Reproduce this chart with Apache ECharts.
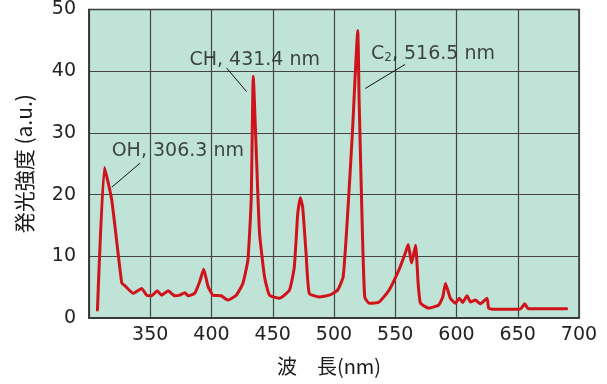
<!DOCTYPE html>
<html><head><meta charset="utf-8">
<script src="https://cdn.jsdelivr.net/npm/echarts@6/dist/echarts.min.js"></script>
<style>html,body{margin:0;padding:0;background:#fff}#c{width:607px;height:384px}</style>
</head><body><div id="c"></div>
<script>
// spectrum: wavelength (nm), intensity (a.u.)
const wavelength = [306.9,312.6,318.6,326.7,329.4,336.2,343,347,351,355.7,359.3,364.6,370,374,378.2,380.9,386.3,390.4,393.6,397.2,401.2,408,413.4,420.2,425.6,429.7,432.4,434.1,436.5,439.2,443.3,447.3,455.5,463.6,467.6,470.4,472.5,474.4,477.2,479.8,488,496.1,502.9,507.5,511,515,519.4,520.5,523.2,525.1,528.6,536.8,544.9,553,558.5,560.6,563.3,566.6,568.7,570.6,577.4,585.5,588.8,591,595,599,602.4,605,608.6,611.4,615.4,619.5,624.9,626.3,630.4,639.8,650,653,655.7,658.6,672,689.9];
const intensity  = [1.3,24.4,19.1,5.7,5.2,4.0,4.8,3.7,3.6,4.4,3.7,4.4,3.6,3.7,4.1,3.6,4.0,5.9,7.9,5.1,3.7,3.6,2.9,3.7,5.6,9.4,19.1,39.2,27.2,13.8,6.7,3.7,3.2,4.5,8.3,16.9,19.5,18.0,10.5,4.0,3.4,3.7,4.5,6.7,16.4,29.9,46.6,35.3,13.8,3.4,2.4,2.6,4.5,7.8,10.7,11.9,8.9,11.8,5.6,2.4,1.6,2.1,3.4,5.6,3.2,2.4,3.2,2.5,3.6,2.6,2.9,2.3,3.2,1.6,1.4,1.4,1.4,1.6,2.3,1.5,1.5,1.5];
const xTicks = [300,350,400,450,500,550,600,650,700];
const yTicks = [0,10,20,30,40,50];
// annotations: label text, text anchor, leader line start/end
const annoText = ['OH, 306.3 nm','CH, 431.4 nm','C{s|2}, 516.5 nm'];
const annoPos  = [[372.5,27.1],[435.3,41.8],[580.8,42.7]];
const leaderFrom = [[341.7,25.1],[412.4,40.5],[558,41.1]];
const leaderTo   = [[318.6,21.2],[428.6,36.7],[525.5,37.2]];

const chart = echarts.init(document.getElementById('c'), null, {renderer:'canvas'});
const font = 'DejaVu Sans';
const series = [{
  type:'line', data: wavelength.map((w,i)=>[w,intensity[i]]),
  showSymbol:false, symbol:'none', smooth:0.15,
  lineStyle:{color:'#d0121b', width:3, join:'round', cap:'round'}, z:5
}];
leaderFrom.forEach((p,i)=>{
  series.push({type:'line', data:[p, leaderTo[i]], symbol:'none', silent:true,
    lineStyle:{color:'#111', width:1}, z:4});
});
series.push({type:'scatter', symbolSize:0, z:6, silent:true,
  data: annoPos.map((p,i)=>({value:p, label:{show:true, position:'inside', formatter:annoText[i]}})),
  label:{color:'#1a1a1a', fontSize:19, fontFamily:font,
    rich:{s:{fontSize:12, fontFamily:font, color:'#1a1a1a', verticalAlign:'bottom', padding:[7,0,0,0]}}}
});
chart.setOption({
  animation:false,
  grid:{left:89, right:28, top:9, bottom:66, show:true, backgroundColor:'#bfe3d6', borderColor:'#333', borderWidth:1.5},
  xAxis:{type:'value', min:xTicks[0], max:xTicks[xTicks.length-1], interval:50,
    name:'波　長(nm)', nameLocation:'middle', nameGap:38,
    nameTextStyle:{fontSize:20, color:'#1a1a1a', fontFamily:'Noto Sans CJK JP', padding:[0,10,0,0]},
    axisLine:{show:true, lineStyle:{color:'#333', width:1.5}}, axisTick:{show:false},
    axisLabel:{color:'#222', fontSize:19, fontFamily:font, margin:8,
      formatter:v=> (v===xTicks[0] ? '' : String(v))},
    splitLine:{show:true, lineStyle:{color:'#444', width:1.2}}},
  yAxis:{type:'value', min:yTicks[0], max:yTicks[yTicks.length-1], interval:10,
    name:'発光強度 (a.u.)', nameLocation:'middle', nameGap:54, nameRotate:90,
    nameTextStyle:{fontSize:21, color:'#1a1a1a', fontFamily:'Noto Sans CJK JP'},
    axisLine:{show:true, lineStyle:{color:'#333', width:1.5}}, axisTick:{show:false},
    axisLabel:{color:'#222', fontSize:19, fontFamily:font, margin:13},
    splitLine:{show:true, lineStyle:{color:'#444', width:1.2}}},
  series
});
</script></body></html>
